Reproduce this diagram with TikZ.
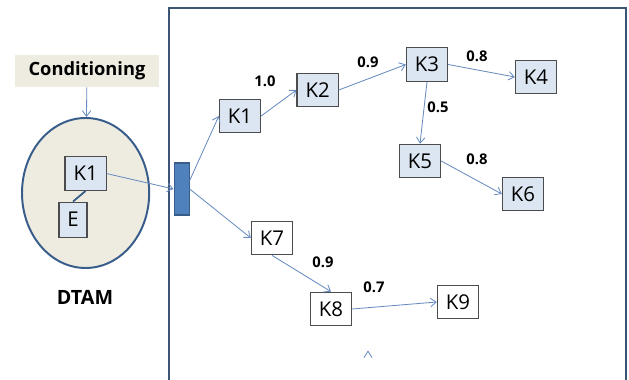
\documentclass[tikz,border=0pt]{standalone}
\usepackage{fontspec}
\setmainfont{Open Sans}
\usetikzlibrary{arrows.meta,shapes.geometric}

\definecolor{edgeblue}{RGB}{105,140,192}
\definecolor{framec}{RGB}{60,85,118}
\definecolor{kfill}{RGB}{220,230,242}
\definecolor{beige}{RGB}{238,236,225}
\definecolor{barblue}{RGB}{79,129,189}
\definecolor{darkblue}{RGB}{56,93,138}

\tikzset{
  kbox/.style={draw=black!70, fill=kfill, thick, minimum width=1.03cm, minimum height=0.84cm, inner sep=0pt, font=\fontsize{14.5}{15}\selectfont},
  wbox/.style={kbox, fill=white},
  lbl/.style={font=\bfseries\fontsize{10.5}{11}\selectfont},
  arr/.style={draw=edgeblue, semithick, -{Straight Barb[length=4pt,width=6pt]}},
}

\begin{document}
\begin{tikzpicture}
\useasboundingbox (0,0) rectangle (15.725,9.5);

% outer frame, open at the bottom
\draw[framec, line width=1.4pt] (4.225,-0.1) |- (15.65,9.3) -- (15.65,-0.1);

% DTAM part
\node[fill=beige, minimum width=3.6cm, minimum height=0.8cm, font=\bfseries\fontsize{13}{13}\selectfont] (cond) at (2.175,7.725) {Conditioning};
\node[ellipse, draw=darkblue, line width=1.4pt, fill=beige, minimum width=3.18cm, minimum height=3.75cm] (dtam) at (2.14,4.675) {};
\node[kbox] (d1) at (2.14,5.16) {K1};
\node[kbox, minimum width=0.7cm, minimum height=0.875cm] (e) at (1.825,4.01) {E};
\node[font=\bfseries\fontsize{14}{14}\selectfont] (dtamlbl) at (2.125,2.075) {DTAM};

\draw[arr] (cond) -- (dtam);
\draw[darkblue, line width=1.3pt] (d1.south) -- (e.north);

% bar
\node[draw=darkblue, fill=barblue, thick, minimum width=0.375cm, minimum height=1.3cm, inner sep=0pt] (bar) at (4.54,4.775) {};
\draw[arr] (d1.east) -- (bar.west);

% nodes
\node[kbox] (k1) at (6.0,6.6) {K1};
\node[kbox] (k2) at (7.94,7.25) {K2};
\node[kbox] (k3) at (10.675,7.8875) {K3};
\node[kbox] (k4) at (13.4,7.575) {K4};
\node[kbox] (k5) at (10.5,5.475) {K5};
\node[kbox] (k6) at (13.075,4.65) {K6};
\node[wbox] (k7) at (6.8,3.55) {K7};
\node[wbox] (k8) at (8.275,1.775) {K8};
\node[wbox] (k9) at (11.45,1.95) {K9};

\draw[arr] ([yshift=6pt]bar.east) -- (k1.west);
\draw[arr] (bar.east) -- (k7.west);
\draw[arr] (k1.east) -- (k2.west);
\draw[arr] (k2.east) -- (k3.west);
\draw[arr] (k3.east) -- (k4.west);
\draw[arr] (k3.south) -- (k5.north);
\draw[arr] (k5.east) -- (k6.west);
\draw[arr] (k7.south) -- (k8.north);
\draw[arr] (k8.east) -- (k9.west);

% weights
\node[lbl] (w12) at (6.625,7.475) {1.0};
\node[lbl] (w23) at (9.2,7.95) {0.9};
\node[lbl] (w34) at (11.925,8.1) {0.8};
\node[lbl] (w35) at (10.95,6.825) {0.5};
\node[lbl] (w56) at (11.925,5.525) {0.8};
\node[lbl] (w78) at (8.075,2.95) {0.9};
\node[lbl] (w89) at (9.35,2.325) {0.7};

\draw[edgeblue, semithick] (9.1,0.56) -- (9.2,0.72) -- (9.3,0.56);
\end{tikzpicture}
\end{document}
